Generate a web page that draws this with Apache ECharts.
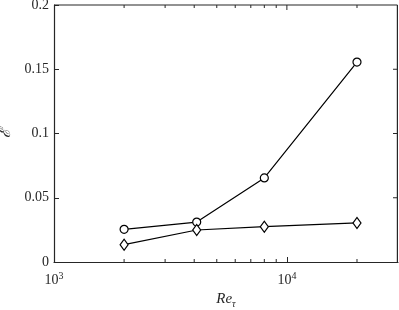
<!DOCTYPE html>
<html><head><meta charset="utf-8">
<script src="https://cdn.jsdelivr.net/npm/echarts@6/dist/echarts.min.js"></script>
<style>html,body{margin:0;padding:0;background:#fff}#c{width:399px;height:310px}</style>
</head><body><div id="c"></div>
<script>
var reTau = [2000, 4100, 8000, 20000];
var circleVals = [0.0254, 0.0311, 0.0654, 0.1556];
var diamondVals = [0.0135, 0.0249, 0.0275, 0.0304];
var yTicks = [0.05, 0.1, 0.15];
var majorX = [10000];
var minorX = [2000, 3000, 4000, 5000, 6000, 7000, 8000, 9000, 20000];
var xMin = 1000, xMax = 30000, yMin = 0, yMax = 0.2;

var FONT = '"Liberation Serif", "Times New Roman", serif';
var AX = '#262626';
var chart = echarts.init(document.getElementById('c'), null, {renderer: 'canvas'});

function pairs(xs, ys) { return xs.map(function (x, i) { return [x, ys[i]]; }); }

function xTickSeries(vals, len, bothSides) {
  return {
    type: 'custom', silent: true, z: 1,
    data: vals.map(function (x) { return [x]; }),
    renderItem: function (params, api) {
      var b = api.coord([api.value(0), yMin]);
      var t = api.coord([api.value(0), yMax]);
      var st = {stroke: AX, lineWidth: 1};
      var kids = [{type: 'line', shape: {x1: t[0], y1: t[1], x2: t[0], y2: t[1] + len}, style: st}];
      if (bothSides) kids.push({type: 'line', shape: {x1: b[0], y1: b[1], x2: b[0], y2: b[1] - len}, style: st});
      return {type: 'group', children: kids};
    }
  };
}

chart.setOption({
  animation: false,
  backgroundColor: '#fff',
  grid: {left: 54, right: 1, top: 5, bottom: 48, containLabel: false, outerBoundsMode: 'none'},
  xAxis: {
    type: 'log', logBase: 10, min: xMin, max: xMax, position: 'bottom',
    axisLine: {show: true, onZero: false, lineStyle: {color: AX, width: 1.2}},
    axisTick: {show: true, inside: true, length: 5, lineStyle: {color: AX}},
    splitLine: {show: false},
    name: '{i|Re}{s|τ}', nameLocation: 'middle', nameGap: 27,
    nameTextStyle: {rich: {
      i: {fontFamily: FONT, fontStyle: 'italic', fontSize: 15, color: AX},
      s: {fontFamily: FONT, fontStyle: 'italic', fontSize: 10, color: AX, padding: [10, 0, 0, 0]}
    }},
    axisLabel: {
      margin: 9, showMaxLabel: false,
      formatter: function (v) { return '{b|10}{e|' + Math.round(Math.log10(v)) + '}'; },
      rich: {
        b: {fontFamily: FONT, fontSize: 14, color: AX},
        e: {fontFamily: FONT, fontSize: 10, color: AX, padding: [0, 0, 8, 0]}
      }
    }
  },
  yAxis: {
    type: 'value', min: yMin, max: yMax, interval: 0.05, position: 'left',
    axisLine: {show: true, onZero: false, lineStyle: {color: AX, width: 1.2}},
    axisTick: {show: true, inside: true, length: 5, lineStyle: {color: AX}},
    splitLine: {show: false},
    name: 'ℰ', nameLocation: 'middle', nameGap: 34, nameRotate: 90,
    nameTextStyle: {fontFamily: FONT, fontSize: 15, fontStyle: 'italic', color: AX},
    axisLabel: {margin: 5, fontFamily: FONT, fontSize: 14, color: AX}
  },
  series: [
    {
      type: 'custom', silent: true, z: 2,
      data: [[xMin, yMin]],
      renderItem: function (params, api) {
        var lb = api.coord([xMin, yMin]);
        var rt = api.coord([xMax, yMax]);
        var st = {stroke: AX, lineWidth: 1.2, fill: null};
        return {type: 'group', children: [
          {type: 'line', shape: {x1: lb[0], y1: rt[1], x2: rt[0] - 0.6, y2: rt[1]}, style: st},
          {type: 'line', shape: {x1: rt[0] - 0.6, y1: rt[1], x2: rt[0] - 0.6, y2: lb[1]}, style: st}
        ]};
      }
    },
    xTickSeries(minorX, 3, true),
    xTickSeries(majorX, 5, false),
    {
      type: 'custom', silent: true, z: 1,
      data: yTicks.map(function (y) { return [xMax, y]; }),
      renderItem: function (params, api) {
        var p = api.coord([api.value(0), api.value(1)]);
        return {type: 'line', shape: {x1: p[0], y1: p[1], x2: p[0] - 5, y2: p[1]},
                style: {stroke: AX, lineWidth: 1}};
      }
    },
    {
      type: 'line', data: pairs(reTau, circleVals), z: 3,
      symbol: 'circle', symbolSize: 8,
      lineStyle: {color: '#000', width: 1.2},
      itemStyle: {color: '#fff', borderColor: '#000', borderWidth: 1.2}
    },
    {
      type: 'line', data: pairs(reTau, diamondVals), z: 3,
      symbol: 'diamond', symbolSize: [8, 11],
      lineStyle: {color: '#000', width: 1.2},
      itemStyle: {color: '#fff', borderColor: '#000', borderWidth: 1.2}
    }
  ]
});
</script></body></html>
